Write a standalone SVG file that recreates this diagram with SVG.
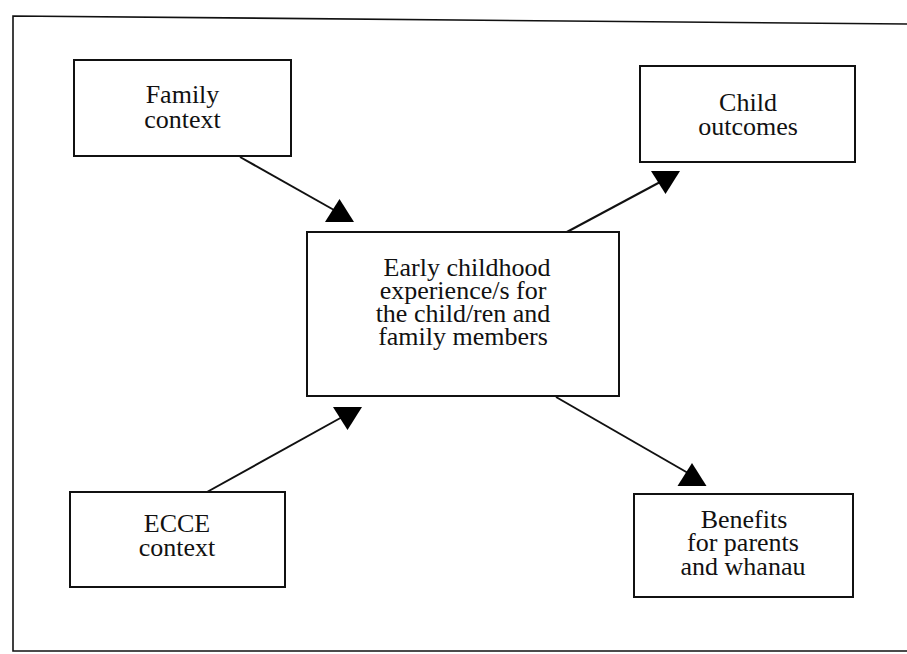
<svg xmlns="http://www.w3.org/2000/svg" width="907" height="654" viewBox="0 0 907 654">
<style>
.box{fill:#fff;stroke:#111;stroke-width:2}
.lbl{font-family:"Liberation Serif","Times New Roman",serif;font-size:26px;fill:#111;text-anchor:middle}
.conn{stroke:#111;stroke-width:2;fill:none}
.head{fill:#000}
.frame{stroke:#111;stroke-width:1.6;fill:none}
</style>
<defs>
<polygon id="up" points="0,0 -14.5,23 14.5,23"/>
<polygon id="down" points="0,0 -14.5,-23 14.5,-23"/>
</defs>
<rect width="907" height="654" fill="#fff"/>
<polyline class="frame" points="907,24 13,16 13,651 907,651"/>
<g id="connectors">
<line class="conn" x1="240" y1="157" x2="334" y2="210"/>
<use href="#up" class="head" x="339.5" y="199"/>
<line class="conn" x1="565" y1="233" x2="662" y2="181"/>
<use href="#down" class="head" x="665.5" y="194"/>
<line class="conn" x1="207" y1="492" x2="344" y2="416"/>
<use href="#down" class="head" x="347.5" y="430"/>
<line class="conn" x1="556" y1="397" x2="688" y2="473"/>
<use href="#up" class="head" x="692" y="463"/>
</g>
<g id="family">
<rect class="box" x="74" y="60" width="217" height="96"/>
<text class="lbl" x="182.5" y="103">Family<tspan x="182.5" dy="25">context</tspan></text>
</g>
<g id="child">
<rect class="box" x="640" y="66" width="215" height="96"/>
<text class="lbl" x="748" y="111">Child<tspan x="748" dy="24">outcomes</tspan></text>
</g>
<g id="center">
<rect class="box" x="307" y="232" width="312" height="164"/>
<text class="lbl" x="467" y="276">Early childhood<tspan x="463" dy="23">experience/s for</tspan><tspan x="463" dy="23">the child/ren and</tspan><tspan x="463" dy="23">family members</tspan></text>
</g>
<g id="ecce">
<rect class="box" x="70" y="492" width="215" height="95"/>
<text class="lbl" x="177" y="532">ECCE<tspan x="177" dy="24">context</tspan></text>
</g>
<g id="benefits">
<rect class="box" x="634" y="494" width="219" height="103"/>
<text class="lbl" x="744" y="528">Benefits<tspan x="743" dy="23">for parents</tspan><tspan x="743" dy="24">and whanau</tspan></text>
</g>
</svg>
